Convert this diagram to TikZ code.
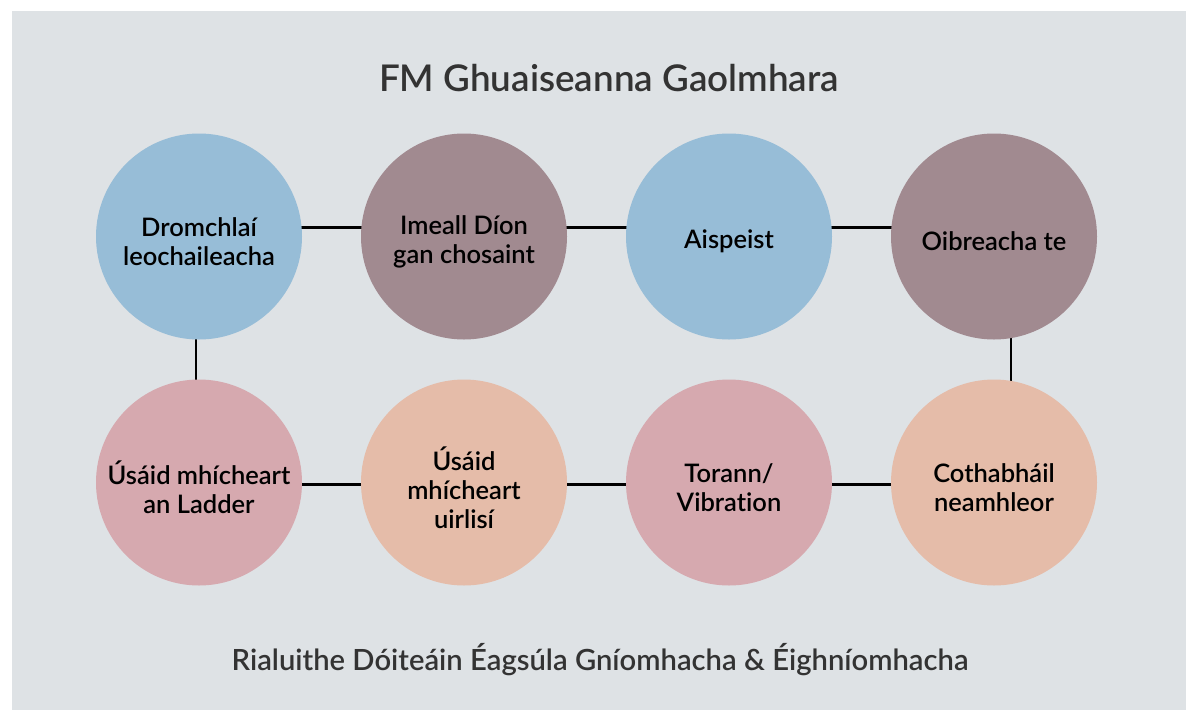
\documentclass[tikz,border=0pt]{standalone}
\usepackage{fontspec}
\usetikzlibrary{backgrounds}
\setmainfont{Lato}[Ligatures=NoCommon]
\IfFontExistsTF{Lato Semibold}{\newfontfamily\semifont{Lato Semibold}[Ligatures=NoCommon]}{\newfontfamily\semifont{Lato}[FakeBold=1.5,Ligatures=NoCommon]}
\definecolor{bgray}{HTML}{DEE2E5}
\definecolor{cblue}{HTML}{97BDD7}
\definecolor{cmauve}{HTML}{A18A90}
\definecolor{cpink}{HTML}{D6A9AF}
\definecolor{cpeach}{HTML}{E5BCA9}
\definecolor{tgray}{HTML}{333333}
\begin{document}
\begin{tikzpicture}[x=1pt,y=-1pt,
  circ/.style={circle, draw=none, minimum size=206pt, inner sep=0pt},
  lbl/.style={align=center, font=\semifont\fontsize{25.5}{29}\selectfont, text=black, inner sep=0pt},
  conn/.style={draw=black, line width=2.6pt}]
\useasboundingbox (0,0) rectangle (1186,710);
\node[font=\semifont\fontsize{36.8}{42}\selectfont, text=tgray] (title) at (609,78) {FM Ghuaiseanna Gaolmhara};
\node[font=\semifont\fontsize{29.2}{33}\selectfont, text=tgray] (foot) at (600,660) {Rialuithe Dóiteáin Éagsúla Gníomhacha \& Éighníomhacha};
% circles
\node[circ, fill=cblue]  (c1) at (199,236.5) {};
\node[circ, fill=cmauve] (c2) at (464,236.5) {};
\node[circ, fill=cblue]  (c3) at (729,236.5) {};
\node[circ, fill=cmauve] (c4) at (994,236.5) {};
\node[circ, fill=cpink]  (c5) at (199,482.5) {};
\node[circ, fill=cpeach] (c6) at (464,482.5) {};
\node[circ, fill=cpink]  (c7) at (729,482.5) {};
\node[circ, fill=cpeach] (c8) at (994,482.5) {};
% connectors (behind the circles)
\begin{scope}[on background layer]
\fill[bgray] (12,11) rectangle (1186,710);
\draw[conn] ([yshift=9pt]c1.center) -- ([yshift=9pt]c2.center);
\draw[conn] ([yshift=9pt]c2.center) -- ([yshift=9pt]c3.center);
\draw[conn] ([yshift=9pt]c3.center) -- ([yshift=9pt]c4.center);
\draw[conn] ([xshift=-3pt]c1.center) -- ([xshift=-3pt]c5.center);
\draw[conn] ([xshift=17pt]c4.center) -- ([xshift=17pt]c8.center);
\draw[conn] ([yshift=-2pt]c5.center) -- ([yshift=-2pt]c6.center);
\draw[conn] ([yshift=-2pt]c6.center) -- ([yshift=-2pt]c7.center);
\draw[conn] ([yshift=-2pt]c7.center) -- ([yshift=-2pt]c8.center);
\end{scope}
% labels
\node[lbl] (t1) at ([yshift=-5pt]c1.center) {Dromchlaí\\leochaileacha};
\node[lbl] (t2) at ([yshift=-5pt]c2.center) {Imeall Díon\\gan chosaint};
\node[lbl] (t3) at ([yshift=-5pt]c3.center) {Aispeist};
\node[lbl] (t4) at ([yshift=-5pt]c4.center) {Oibreacha te};
\node[lbl] (t5) at ([yshift=-5pt]c5.center) {Úsáid mhícheart\\an Ladder};
\node[lbl] (t6) at ([yshift=-5pt]c6.center) {Úsáid\\mhícheart\\uirlisí};
\node[lbl] (t7) at ([yshift=-5pt]c7.center) {Torann/\\Vibration};
\node[lbl] (t8) at ([yshift=-5pt]c8.center) {Cothabháil\\neamhleor};
\end{tikzpicture}
\end{document}
